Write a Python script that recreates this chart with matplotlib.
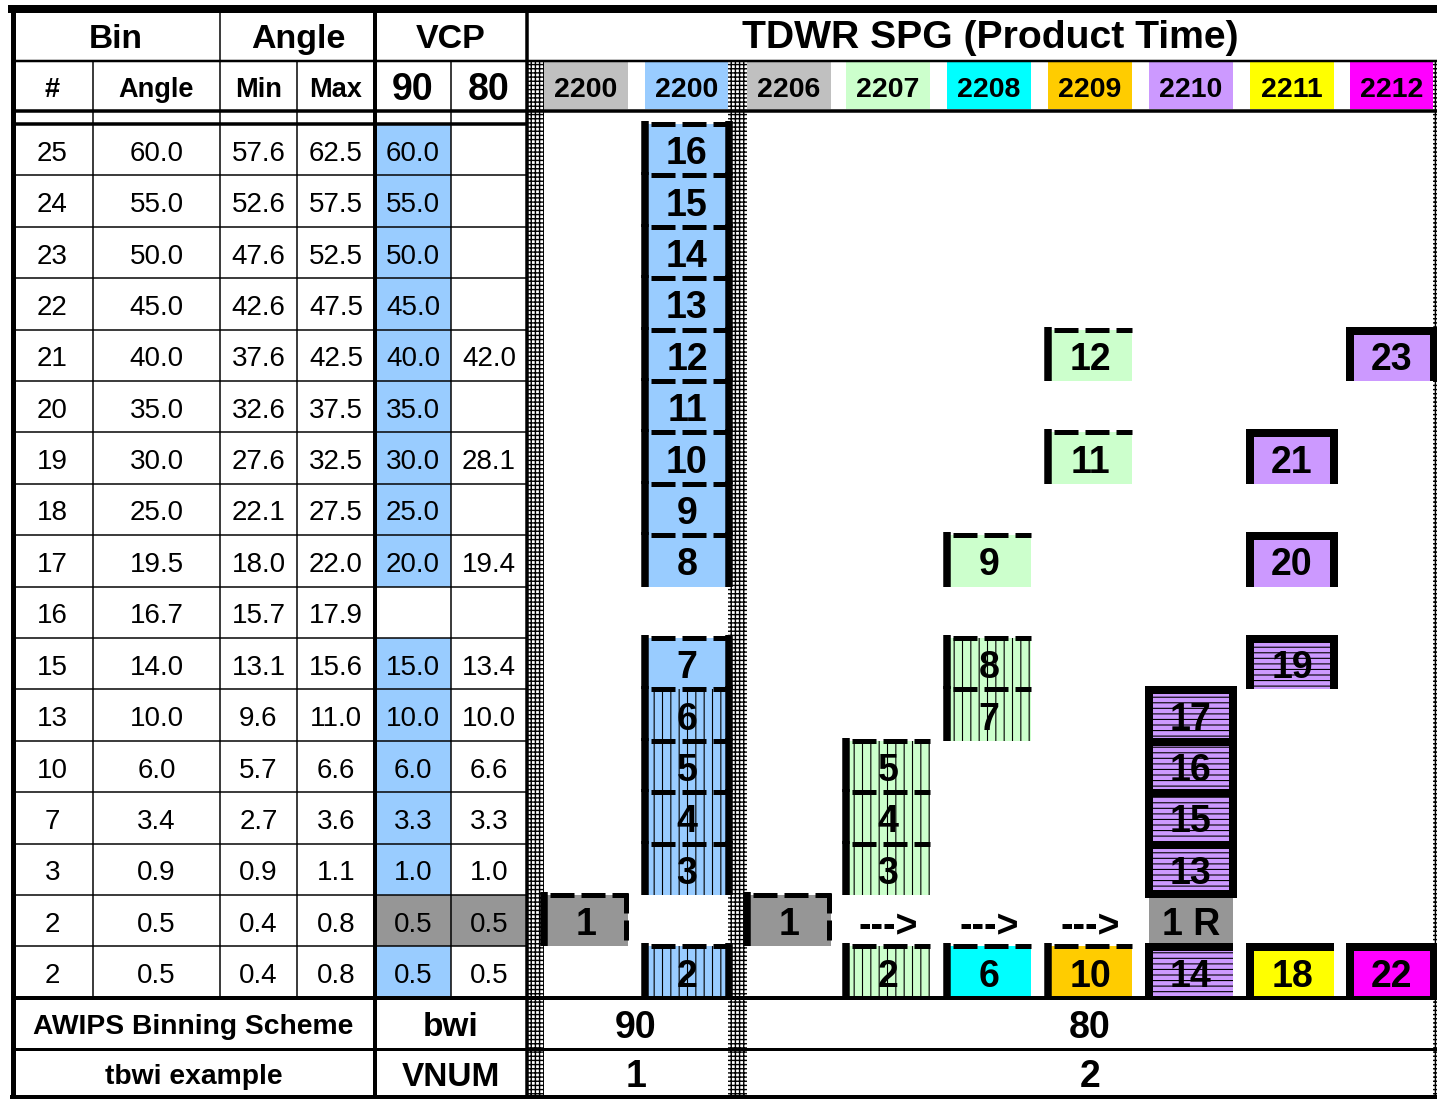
import matplotlib.pyplot as plt
from matplotlib.patches import Rectangle

plt.rcParams['font.family'] = ['Liberation Sans', 'DejaVu Sans']
plt.rcParams['hatch.linewidth'] = 0.8

# ---- table data (top row = bin 25, last two rows = bin 2) ----
bins = [25, 24, 23, 22, 21, 20, 19, 18, 17, 16, 15, 13, 10, 7, 3, 2, 2]
angles = ['60.0', '55.0', '50.0', '45.0', '40.0', '35.0', '30.0', '25.0', '19.5',
          '16.7', '14.0', '10.0', '6.0', '3.4', '0.9', '0.5', '0.5']
ang_min = ['57.6', '52.6', '47.6', '42.6', '37.6', '32.6', '27.6', '22.1', '18.0',
           '15.7', '13.1', '9.6', '5.7', '2.7', '0.9', '0.4', '0.4']
ang_max = ['62.5', '57.5', '52.5', '47.5', '42.5', '37.5', '32.5', '27.5', '22.0',
           '17.9', '15.6', '11.0', '6.6', '3.6', '1.1', '0.8', '0.8']
vcp90 = ['60.0', '55.0', '50.0', '45.0', '40.0', '35.0', '30.0', '25.0', '20.0',
         '', '15.0', '10.0', '6.0', '3.3', '1.0', '0.5', '0.5']
vcp80 = ['', '', '', '', '42.0', '', '28.1', '', '19.4',
         '', '13.4', '10.0', '6.6', '3.3', '1.0', '0.5', '0.5']
vcp90_fill = ['blue'] * 9 + [None] + ['blue'] * 5 + ['dgray', 'blue']
vcp80_fill = [None] * 15 + ['dgray', None]

times = ['2200', '2200', '2206', '2207', '2208', '2209', '2210', '2211', '2212']
time_fill = ['lgray', 'blue', 'lgray', 'green', 'cyan', 'orange', 'purple', 'yellow', 'magenta']

colors = {'blue': '#99CCFF', 'green': '#CCFFCC', 'purple': '#CC99FF', 'cyan': '#00FFFF',
          'orange': '#FFCC00', 'yellow': '#FFFF00', 'magenta': '#FF00FF',
          'lgray': '#C0C0C0', 'dgray': '#969696'}

# (product column, table row, label, fill, hatch, frame)
blocks = [
    (1, 0, '16', 'blue', None, 'dash_lr'), (1, 1, '15', 'blue', None, 'dash_lr'),
    (1, 2, '14', 'blue', None, 'dash_lr'), (1, 3, '13', 'blue', None, 'dash_lr'),
    (1, 4, '12', 'blue', None, 'dash_lr'), (1, 5, '11', 'blue', None, 'dash_lr'),
    (1, 6, '10', 'blue', None, 'dash_lr'), (1, 7, '9', 'blue', None, 'dash_lr'),
    (1, 8, '8', 'blue', None, 'dash_lr'), (1, 10, '7', 'blue', None, 'dash_lr'),
    (1, 11, '6', 'blue', '||', 'dash_lr'), (1, 12, '5', 'blue', '||', 'dash_lr'),
    (1, 13, '4', 'blue', '||', 'dash_lr'), (1, 14, '3', 'blue', '||', 'dash_lr'),
    (1, 16, '2', 'blue', '||', 'dash_lr'),
    (0, 15, '1', 'dgray', None, 'dash_ld'),
    (2, 15, '1', 'dgray', None, 'dash_ld'),
    (3, 12, '5', 'green', '||', 'dash_l'), (3, 13, '4', 'green', '||', 'dash_l'),
    (3, 14, '3', 'green', '||', 'dash_l'), (3, 16, '2', 'green', '||', 'dash_l'),
    (4, 8, '9', 'green', None, 'dash_l'), (4, 10, '8', 'green', '||', 'dash_l'),
    (4, 11, '7', 'green', '||', 'dash_l'), (4, 16, '6', 'cyan', None, 'dash_l'),
    (5, 4, '12', 'green', None, 'dash_l'), (5, 6, '11', 'green', None, 'dash_l'),
    (5, 16, '10', 'orange', None, 'dash_l'),
    (6, 11, '17', 'purple', '---', 'box'), (6, 12, '16', 'purple', '---', 'box'),
    (6, 13, '15', 'purple', '---', 'box'), (6, 14, '13', 'purple', '---', 'box_b'),
    (6, 15, '1 R', 'dgray', None, None), (6, 16, '14', 'purple', '---', 'box_l'),
    (7, 6, '21', 'purple', None, 'box'), (7, 8, '20', 'purple', None, 'box'),
    (7, 10, '19', 'purple', '---', 'box'), (7, 16, '18', 'yellow', None, 'box_l'),
    (8, 4, '23', 'purple', None, 'box'), (8, 16, '22', 'magenta', None, 'box'),
]
arrow_cols = [3, 4, 5]
arrow_row = 15

footer_left = ['AWIPS Binning Scheme', 'tbwi example']
footer_mid = ['bwi', 'VNUM']
footer_vcp = [['90', '80'], ['1', '2']]

# ---- layout (pixels) ----
W, H = 1437, 1099
PT = 0.72                      # points per pixel at 100 dpi
row_top, row_h = 124.0, 51.4
tab_x = [12, 93, 220, 297, 375, 451, 527]
cell_x = [544, 645, 747, 846, 947, 1048, 1149, 1250, 1350]
cell_w = 84
sep_cols = [(527, 544), (728, 747), (1433, 1460)]
y_foot = [998, 1048.5, 1097]

fig = plt.figure(figsize=(W / 100, H / 100), dpi=100)
ax = fig.add_axes([0, 0, 1, 1])
ax.set_xlim(0, W)
ax.set_ylim(H, 0)
ax.axis('off')


def line(xs, ys, px, dash=None, z=5):
    ls = '-' if dash is None else (0, dash)
    ax.plot(xs, ys, color='black', lw=px * PT, linestyle=ls,
            solid_capstyle='butt', dash_capstyle='butt', zorder=z)


def txt(x, yc, s, fs, bold=True, z=6):
    # centre the cap height on yc
    ax.text(x, yc + 0.36 * fs / PT, s, ha='center', va='baseline', fontsize=fs,
            fontweight='bold' if bold else 'normal', zorder=z)


def ry(r):
    return row_top + r * row_h


# left table VCP fills
for r in range(len(bins)):
    for ci, fills in ((4, vcp90_fill), (5, vcp80_fill)):
        if fills[r]:
            ax.add_patch(Rectangle((tab_x[ci], ry(r)), tab_x[ci + 1] - tab_x[ci], row_h,
                                   facecolor=colors[fills[r]], lw=0, zorder=1))

# product header cells
for i, t in enumerate(times):
    ax.add_patch(Rectangle((cell_x[i], 62), cell_w, 47, facecolor=colors[time_fill[i]],
                           lw=0, zorder=1))
    txt(cell_x[i] + cell_w / 2, 87, t, 20.5)

# footer lines through whole width
line([12, W], [y_foot[0], y_foot[0]], 4)
line([12, W], [y_foot[1], y_foot[1]], 3)

# separator columns (grid pattern)
with plt.rc_context({'hatch.linewidth': 1.0}):
    for x0, x1 in sep_cols:
        ax.add_patch(Rectangle((x0, 61.5), x1 - x0, 1097 - 61.5, facecolor='white',
                               edgecolor='black', lw=0, hatch='++++', zorder=2))

# blocks
for col, r, lab, fill, hatch, frame in blocks:
    x0 = cell_x[col]
    x1 = x0 + cell_w
    y0, y1 = ry(r), ry(r + 1)
    ax.add_patch(Rectangle((x0, y0), cell_w, row_h, facecolor=colors[fill],
                           edgecolor='black' if hatch else 'none', lw=0, hatch=hatch, zorder=3))
    txt((x0 + x1) / 2, (y0 + y1) / 2 + 1, lab, 27)
    if frame is None:
        continue
    if frame.startswith('dash'):
        line([x0 + 6, x1], [y0, y0], 5, dash=(4.8, 1.4))
        line([x0, x0], [y0 - 3, y1], 7.5)
        if frame == 'dash_lr':
            line([x1, x1], [y0 - 3, y1], 7.5)
        if frame == 'dash_ld':
            line([x1 - 2, x1 - 2], [y0 - 2, y1], 5, dash=(4.0, 1.4))
    else:
        line([x0 - 4, x1 + 4 if frame != 'box_l' else x1], [y0 + 1, y0 + 1], 8)
        line([x0, x0], [y0 - 3, y1], 8)
        if frame != 'box_l':
            line([x1, x1], [y0 - 3, y1], 8)
        if frame == 'box_b':
            line([x0 - 4, x1 + 4], [y1 - 1, y1 - 1], 8)

for c in arrow_cols:
    ax.text(cell_x[c] + cell_w / 2, ry(arrow_row) + row_h / 2 + 17, '--->', ha='center',
            va='baseline', fontsize=27, fontweight='bold', zorder=6)

# left table grid
for k in range(1, len(bins)):
    line([tab_x[0], tab_x[-1]], [ry(k), ry(k)], 1.5, z=4)
line([tab_x[0], tab_x[-1]], [123.5, 123.5], 3.5)
for x in (tab_x[1], tab_x[3], tab_x[5]):
    line([x, x], [60.5, y_foot[0]], 1.5, z=4)
line([tab_x[2], tab_x[2]], [12, y_foot[0]], 1.5, z=4)
line([tab_x[4], tab_x[4]], [12, 1097], 4)
line([tab_x[6], tab_x[6]], [12, 1097], 3.5)

# header / border lines
line([12, W], [60.5, 60.5], 2.5)
line([12, W], [110.5, 110.5], 3.5)
line([8, W], [9, 9], 8)
line([12.5, 12.5], [5, 1099], 5)
line([10, W], [1097, 1097], 4)

# header text
txt(116, 36, 'Bin', 24)
txt(298, 36, 'Angle', 24.5)
txt(451, 36, 'VCP', 24.5)
txt(990, 34, 'TDWR SPG (Product Time)', 28.2)
sub_heads = ['#', 'Angle', 'Min', 'Max', '90', '80']
for i, s in enumerate(sub_heads):
    fs = 27 if i >= 4 else 19.5
    txt((tab_x[i] + tab_x[i + 1]) / 2, 87, s, fs)

# table values
for r in range(len(bins)):
    yc = ry(r) + row_h / 2 + 1
    vals = [str(bins[r]), angles[r], ang_min[r], ang_max[r], vcp90[r], vcp80[r]]
    for i, v in enumerate(vals):
        txt((tab_x[i] + tab_x[i + 1]) / 2, yc, v, 20, bold=False)

# footer text
for k in range(2):
    yc = (y_foot[k] + y_foot[k + 1]) / 2 + 1
    txt((tab_x[0] + tab_x[4]) / 2, yc, footer_left[k], 20.3)
    txt((tab_x[4] + tab_x[6]) / 2, yc, footer_mid[k], 24)
    txt((544 + 728) / 2, yc, footer_vcp[k][0], 27)
    txt((747 + 1433) / 2, yc, footer_vcp[k][1], 27)

fig.savefig('out.png', dpi=100)
